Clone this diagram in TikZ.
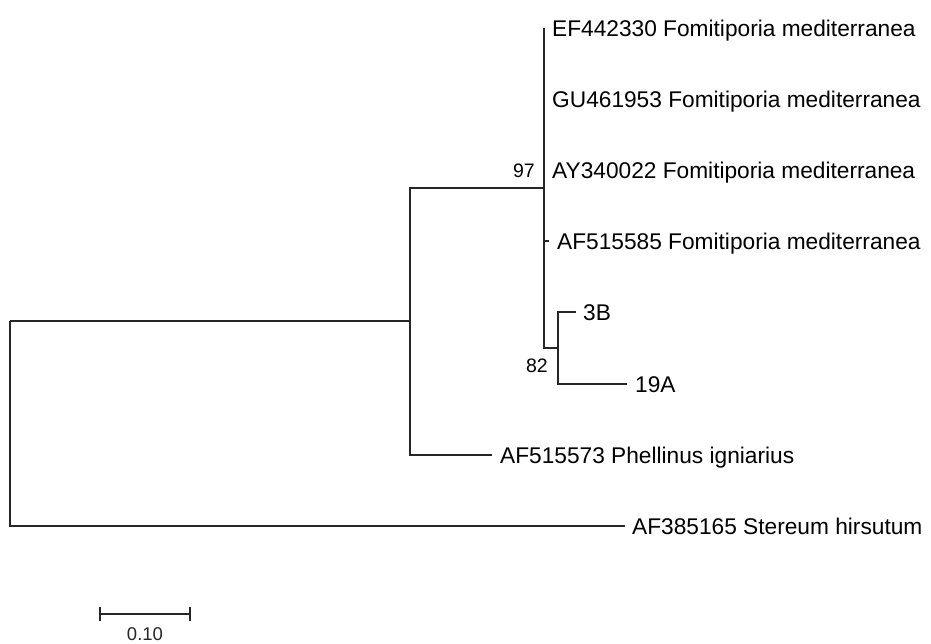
\documentclass[tikz,border=0pt]{standalone}
\usepackage{fontspec}
\setmainfont{Liberation Sans}
\usetikzlibrary{arrows.meta, positioning}
\tikzset{
    branch/.style={line width=1.4pt, black!85},
    taxon/.style={anchor=west, inner sep=0pt, text height=16pt, text depth=0pt, font=\fontsize{22.7}{26}\selectfont},
    boot/.style={inner sep=0pt, text depth=0pt, font=\fontsize{19.5}{23}\selectfont},
    scalelab/.style={inner sep=0pt, text depth=0pt, font=\fontsize{18.5}{22}\selectfont}
}

\begin{document}
\begin{tikzpicture}[x=1pt, y=-1pt]
      \useasboundingbox (0,0) rectangle (931,643);
      % internal nodes
      \coordinate (root) at (10,321);
      \coordinate (anc) at (410,321);
      \coordinate (n97) at (544,188);
      \coordinate (n82) at (558,348);
      % tips
      \coordinate (tEF) at (544,28);
      \coordinate (tGU) at (544,99);
      \coordinate (tAY) at (544,170);
      \coordinate (tAFa) at (549,241);
      \coordinate (tB) at (576,312);
      \coordinate (tA) at (627,384);
      \coordinate (tPh) at (492,455);
      \coordinate (tSt) at (625,526);

      \draw [branch] (root) -- (anc);
      \draw [branch] (root) |- (tSt);
      \draw [branch] (anc) |- (n97);
      \draw [branch] (anc) |- (tPh);
      \draw [branch] (n97) |- (tEF);
      \draw [branch] (n97) |- (tGU);
      \draw [branch] (n97) |- (tAY);
      \draw [branch] (n97) |- (tAFa);
      \draw [branch] (n97) |- (n82);
      \draw [branch] (n82) |- (tB);
      \draw [branch] (n82) |- (tA);

      \node [taxon, right=8pt of tEF] (lEF) {EF442330 Fomitiporia mediterranea};
      \node [taxon, right=8pt of tGU] (lGU) {GU461953 Fomitiporia mediterranea};
      \node [taxon, right=8pt of tAY] (lAY) {AY340022 Fomitiporia mediterranea};
      \node [taxon, right=8pt of tAFa] (lAFa) {AF515585 Fomitiporia mediterranea};
      \node [taxon, right=7pt of tB] (lB) {3B};
      \node [taxon, right=8pt of tA] (lA) {19A};
      \node [taxon, right=8pt of tPh] (lPh) {AF515573 Phellinus igniarius};
      \node [taxon, right=7pt of tSt] (lSt) {AF385165 Stereum hirsutum};

      \node [boot, above left=10pt and 9pt of n97] (b97) {97};
      \node [boot, below left=11pt and 10pt of n82] (b82) {82};

      % scale bar
      \coordinate (sbL) at (100,614);
      \coordinate (sbR) at (190,614);
      \draw [branch] (sbL) -- node [scalelab, below=13pt] (sbl) {0.10} (sbR);
      \draw [branch] ([yshift=7pt]sbL) -- ([yshift=-7pt]sbL);
      \draw [branch] ([yshift=7pt]sbR) -- ([yshift=-7pt]sbR);
\end{tikzpicture}
\end{document}
